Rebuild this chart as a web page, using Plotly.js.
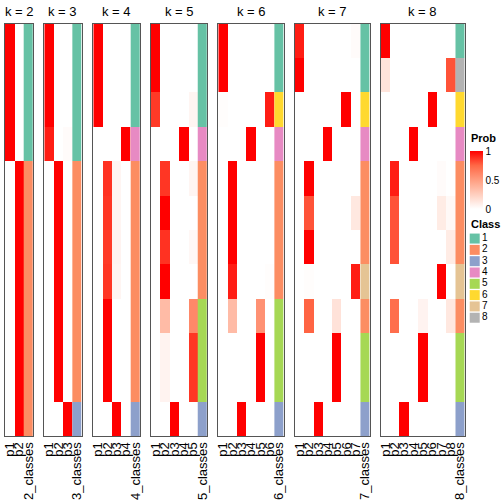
<!DOCTYPE html>
<html><head><meta charset="utf-8">
<script src="https://cdn.plot.ly/plotly-3.0.1.min.js"></script>
<style>html,body{margin:0;padding:0;background:#fff}#chart{width:504px;height:504px}</style>
</head><body><div id="chart"></div>
<script>
// ---------- DATA ----------
const ks = [2, 3, 4, 5, 6, 7, 8];

const prob2 = [
  [1,0],[1,0],[1,0],[1,0],
  [0,1],[0,1],[0,1],[0,1],[0,1],[0,1],[0,1],[0,1]
];
const prob3 = [
  [1,0,0],[1,0,0],[1,0,0],[0.93,0,0.02],
  [0,1,0],[0,1,0],[0,1,0],[0,1,0],[0,1,0],[0,1,0],[0,1,0],
  [0,0,1]
];
const prob4 = [
  [1,0,0,0],[1,0,0,0],[1,0,0,0],
  [0,0,0,1],
  [0,0.88,0.05,0],[0,0.87,0.05,0],[0,0.86,0.06,0],[0,0.87,0.05,0],
  [0,1,0,0],[0,1,0,0],[0,1,0,0],
  [0,0,1,0]
];
const prob5 = [
  [1,0,0,0,0],[1,0,0,0,0],[0.86,0,0,0,0.05],
  [0,0,0,1,0],
  [0,0.87,0,0,0.05],[0,1,0,0,0],[0,0.88,0,0,0.04],[0,1,0,0,0],
  [0,0.35,0,0,0.6],[0,0.06,0,0,0.87],[0,0.06,0,0,0.87],
  [0,0,1,0,0]
];
const prob6 = [
  [1,0,0,0,0,0],[1,0,0,0,0,0],[0.01,0,0,0,0,0.93],
  [0,0,0,1,0,0],
  [0,1,0,0,0,0],[0,1,0,0,0,0],[0,1,0,0,0,0],[0,0.93,0,0,0,0.01],
  [0,0.35,0,0,0.56,0],[0,0,0,0,1,0],[0,0,0,0,1,0],
  [0,0,1,0,0,0]
];
const prob7 = [
  [0.93,0,0,0,0,0,0.02],[1,0,0,0,0,0,0],
  [0,0,0,0,0,1,0],
  [0,0,0,1,0,0,0],
  [0,1,0,0,0,0,0],[0,0.8,0,0,0,0,0.12],[0,1,0,0,0,0,0],
  [0,0.01,0,0,0,0,0.93],
  [0,0.76,0,0,0.15,0,0],
  [0,0,0,0,1,0,0],[0,0,0,0,1,0,0],
  [0,0,1,0,0,0,0]
];
const prob8 = [
  [1,0,0,0,0,0,0,0],
  [0.14,0,0,0,0,0,0,0.8],
  [0,0,0,0,0,1,0,0],
  [0,0,0,1,0,0,0,0],
  [0,0.93,0,0,0,0,0.02,0],[0,0.8,0,0,0,0,0.1,0.03],[0,0.8,0,0,0,0,0,0.1],
  [0,0,0,0,0,0,1,0],
  [0,0.72,0,0,0.06,0,0,0.12],
  [0,0,0,0,1,0,0,0],[0,0,0,0,1,0,0,0],
  [0,0,1,0,0,0,0,0]
];

const class2 = [1,1,1,1,2,2,2,2,2,2,2,2];
const class3 = [1,1,1,1,2,2,2,2,2,2,2,3];
const class4 = [1,1,1,4,2,2,2,2,2,2,2,3];
const class5 = [1,1,1,4,2,2,2,2,5,5,5,3];
const class6 = [1,1,6,4,2,2,2,2,5,5,5,3];
const class7 = [1,1,6,4,2,2,2,7,2,5,5,3];
const class8 = [1,8,6,4,2,2,2,7,2,5,5,3];

const classLabels = ['1','2','3','4','5','6','7','8'];
const classColors = ['#66c2a5','#fc8d62','#8da0cb','#e78ac3','#a6d854','#ffd92f','#e5c494','#b3b3b3'];
const probTicks = [0, 0.5, 1];
const probTickText = ['0', '0.5', '1'];

const probs = [prob2, prob3, prob4, prob5, prob6, prob7, prob8];
const classes = [class2, class3, class4, class5, class6, class7, class8];

// ---------- LAYOUT / STYLE ----------
const W = 504, H = 504;
const panelLeft = [5, 44.3, 93.3, 151, 218.3, 295, 380.7];
const colW = 9.35;
const panelTop = 23.5, panelBottom = 436;
const FONT = '"Liberation Sans", Arial, Helvetica, sans-serif';
const probScale = [[0,'#ffffff'],[0.25,'#ffcfbf'],[0.5,'#ff9e81'],[0.75,'#ff6846'],[1,'#ff0000']];
const classScale = [];
classColors.forEach((c, i) => { classScale.push([i/8, c]); classScale.push([(i+1)/8, c]); });

const traces = [];
const annotations = [];
const layout = {
  width: W, height: H,
  margin: {l:0, r:0, t:0, b:0},
  paper_bgcolor: '#fff', plot_bgcolor: '#fff',
  showlegend: false,
  font: {family: FONT, color: '#000'},
  annotations: annotations
};

ks.forEach((k, i) => {
  const n = i === 0 ? '' : String(i + 1);
  const xa = 'x' + n, ya = 'y' + n;
  const pcols = Array.from({length: k}, (_, j) => j);
  traces.push({
    type: 'heatmap', z: probs[i], x0: 0, dx: 1, y0: 0, dy: 1,
    zmin: 0, zmax: 1, colorscale: probScale, showscale: i === 0,
    xaxis: xa, yaxis: ya, hoverinfo: 'skip', zsmooth: false,
    colorbar: {
      x: 470/W, xanchor: 'left', xpad: 0,
      y: 1 - 180/H, yanchor: 'middle', ypad: 0,
      len: 58, lenmode: 'pixels', thickness: 13, thicknessmode: 'pixels',
      outlinewidth: 0, ticks: '', ticklen: 0,
      tickvals: probTicks, ticktext: probTickText,
      tickfont: {size: 10, family: FONT, color: '#000'}
    }
  });
  traces.push({
    type: 'heatmap', z: classes[i].map(c => [c]), x0: k, dx: 1, y0: 0, dy: 1,
    zmin: 0.5, zmax: 8.5, colorscale: classScale, showscale: false,
    xaxis: xa, yaxis: ya, hoverinfo: 'skip', zsmooth: false
  });
  const x0 = panelLeft[i] / W, x1 = (panelLeft[i] + colW * (k + 1)) / W;
  layout['xaxis' + n] = {
    domain: [x0, x1], anchor: ya, range: [-0.5, k + 0.5],
    tickvals: [...pcols, k],
    ticktext: [...pcols.map(j => 'p' + (j + 1)), k + '_classes'],
    tickangle: -90, ticks: '', showgrid: false, zeroline: false,
    showline: true, mirror: true, linecolor: '#555', linewidth: 1,
    tickfont: {size: 13, family: FONT, color: '#000'}, fixedrange: true
  };
  layout['yaxis' + n] = {
    domain: [1 - panelBottom/H, 1 - panelTop/H], anchor: xa, range: [11.5, -0.5],
    showticklabels: false, ticks: '', showgrid: false, zeroline: false,
    showline: true, mirror: true, linecolor: '#555', linewidth: 1, fixedrange: true
  };
  annotations.push({
    text: 'k = ' + k, xref: xa + ' domain', x: 0.5, xanchor: 'center',
    yref: 'paper', y: 1 - 11/H, yanchor: 'middle', showarrow: false,
    font: {size: 13, family: FONT, color: '#000'}
  });
});

// class legend drawn as a small scatter on its own axes
traces.push({
  type: 'scatter', mode: 'markers+text',
  x: classLabels.map(() => 0), y: classLabels.map((_, i) => i + 1),
  text: classLabels, textposition: 'middle right',
  textfont: {size: 10, family: FONT, color: '#000'},
  marker: {symbol: 'square', size: 10, color: classColors, line: {width: 0}},
  xaxis: 'x8', yaxis: 'y8', hoverinfo: 'skip', cliponaxis: false
});
layout.xaxis8 = {domain: [470/W, 503/W], anchor: 'y8', range: [-0.5, 3], visible: false, fixedrange: true};
layout.yaxis8 = {domain: [1 - 323.4/H, 1 - 232.9/H], anchor: 'x8', range: [8.5, 0.5], visible: false, fixedrange: true};

annotations.push({
  text: '<b>Prob</b>', xref: 'paper', x: 469/W, xanchor: 'left',
  yref: 'paper', y: 1 - 138/H, yanchor: 'middle', showarrow: false,
  font: {size: 11, family: FONT, color: '#000'}
});
annotations.push({
  text: '<b>Class</b>', xref: 'paper', x: 469/W, xanchor: 'left',
  yref: 'paper', y: 1 - 224/H, yanchor: 'middle', showarrow: false,
  font: {size: 11, family: FONT, color: '#000'}
});

Plotly.newPlot('chart', traces, layout, {staticPlot: true, displayModeBar: false});
</script>
</body></html>
